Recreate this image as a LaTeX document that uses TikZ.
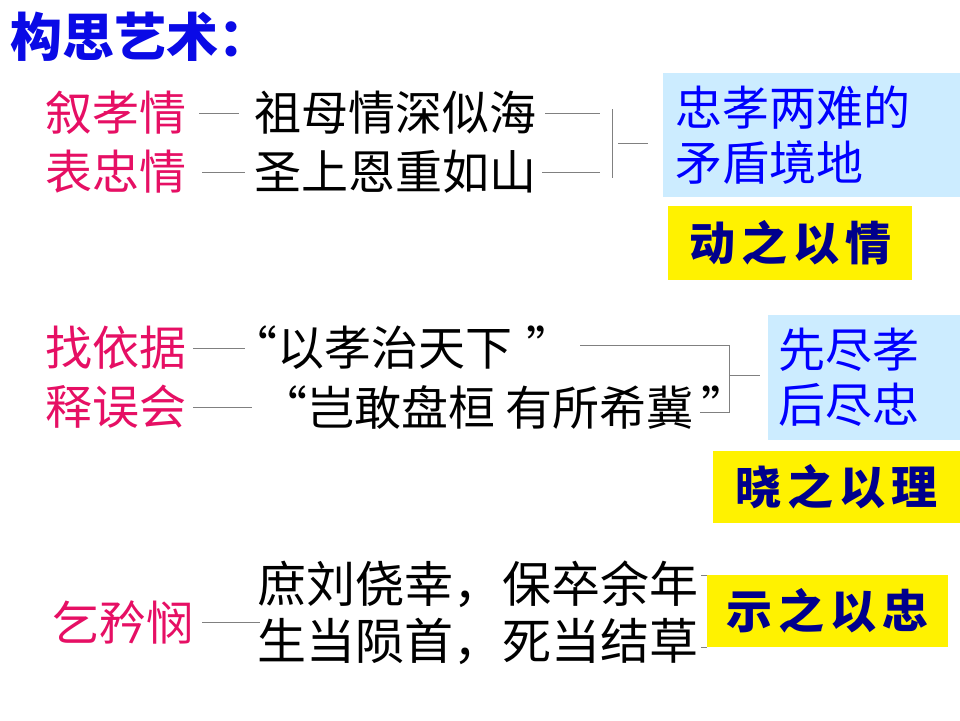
\documentclass[tikz,border=0pt]{standalone}
\usepackage{fontspec}
\setmainfont{Noto Sans CJK SC}
\usetikzlibrary{calc}
\definecolor{pinkred}{RGB}{230,15,100}
\definecolor{ttlblue}{RGB}{10,10,230}
\definecolor{txtblue}{RGB}{0,0,255}
\definecolor{boxblue}{RGB}{204,236,255}
\definecolor{navy}{RGB}{0,0,140}
\begin{document}
\begin{tikzpicture}[x=1pt, y=-1pt,
  txt/.style={anchor=west, inner sep=0pt, font=\fontsize{47}{55}\selectfont},
  lab/.style={txt, text=pinkred},
  ttl/.style={anchor=west, inner sep=0pt, text=ttlblue,
    font=\fontsize{52}{60}\selectfont\bfseries},
  ln/.style={draw=black!50, line width=0.8pt},
  bbox/.style={fill=boxblue, anchor=north west, inner ysep=0pt, align=left,
    text=txtblue, font=\fontsize{47}{55}\selectfont},
  ybox/.style={fill=yellow, anchor=north west, inner sep=0pt, text=navy,
    font=\fontsize{46}{50}\selectfont\bfseries}]

\fill[white] (0,0) rectangle (960,720);
\useasboundingbox (0,0) rectangle (960,720);

\node[ttl] (title) at (10,37) {构思艺术：};

% =================== the two feelings =====================================
\node[lab] (xu) at (45,113) {叙孝情};
\node[lab] (biao) at (45,172) {表忠情};
\node[txt] (zumu) at (254,113) {祖母情深似海};
\node[txt] (shengshang) at (254,172) {圣上恩重如山};
\draw[ln, shorten <=13pt, shorten >=15pt] (xu.east) -- (zumu.west);
\draw[ln, shorten <=16pt, shorten >=9pt] (biao.east) -- (shengshang.west);

\node[bbox, minimum width=297pt, minimum height=124pt, text width=273pt,
      inner xsep=12pt] (liangnan) at (663,73) {忠孝两难的\\矛盾境地};
\node[ybox, minimum width=244pt, minimum height=74pt] (dong) at (668,206)
      {动\hspace{6pt}之\hspace{6pt}以\hspace{6pt}情};

% bracket
\coordinate (k1t) at (612,109);
\coordinate (k1b) at (612,178);
\coordinate (k1m) at (618,143);
\draw[ln] ([xshift=9pt]zumu.east) -- ++(55,0);
\draw[ln] ([xshift=6pt]shengshang.east) -- ++(58,0);
\draw[ln] (k1t) -- (k1b);
\draw[ln, shorten >=15pt] (k1m) -- (liangnan.west |- k1m);

% =================== the reasons ==========================================
\node[lab] (zhao) at (45,348) {找依据};
\node[lab] (shi) at (45,407) {释误会};
\node[txt] (yixiao) at (230,348) {“以孝治天下\hspace{14pt}”};
\node[txt] (qigan) at (260,407) {“岂敢盘桓 有所希冀\hspace{8pt}”};
\draw[ln, shorten <=7pt] (zhao.east) -- ([xshift=15pt]yixiao.west);
\draw[ln, shorten <=7pt, shorten >=8pt] (shi.east) -- (qigan.west);

\node[bbox, minimum width=192pt, minimum height=125pt, text width=172pt,
      inner xsep=10pt] (xianjin) at (768,315) {先尽孝\\后尽忠};
\node[ybox, minimum width=247pt, minimum height=72pt] (xiao) at (713,451)
      {晓\hspace{6pt}之\hspace{6pt}以\hspace{6pt}理};

% bracket
\coordinate (k2t) at (729,345);
\coordinate (k2b) at (729,412);
\coordinate (k2m) at (729,375);
\draw[ln] ([xshift=7pt]yixiao.east |- k2t) -- (k2t) -- (k2b) -- ++(-29,0);
\draw[ln, shorten >=8pt] (k2m) -- (xianjin.west |- k2m);

% =================== the plea =============================================
\node[lab] (qi) at (52,622) {乞矜悯};
\node[txt, font=\fontsize{49}{55}\selectfont] (shu) at (257,584)
      {庶刘侥幸，保卒余年};
\node[txt, font=\fontsize{49}{55}\selectfont] (sheng) at (257,641)
      {生当陨首，死当结草};
\draw[ln, shorten <=9pt] (qi.east) -- ([xshift=3pt]shu.west |- qi.east);

\node[ybox, minimum width=241pt, minimum height=72pt] (shizhi) at (707,575)
      {示\hspace{6pt}之\hspace{6pt}以\hspace{6pt}忠};
\draw[ln] ([xshift=3pt]shu.east |- shizhi.north west) -- (shizhi.north west);
\draw[ln] ([xshift=3pt]sheng.east |- shizhi.south west) -- (shizhi.south west);
\end{tikzpicture}
\end{document}
